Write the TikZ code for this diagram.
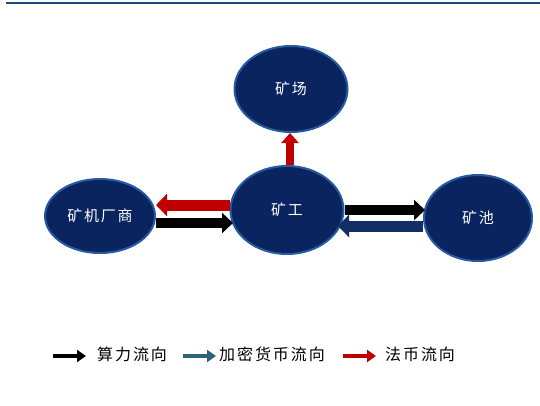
\documentclass[tikz,border=0pt]{standalone}
\usepackage{fontspec}
\newfontfamily\cjk[LetterSpace=12]{Noto Sans CJK SC}
\usetikzlibrary{arrows.meta,shapes.geometric}
\definecolor{navy}{RGB}{10,36,96}
\definecolor{rim}{RGB}{40,90,160}
\definecolor{topline}{RGB}{31,73,125}
\definecolor{redarr}{RGB}{192,0,0}
\definecolor{bluearr}{RGB}{18,45,100}
\definecolor{tealarr}{RGB}{45,100,120}
\tikzset{
  x=1pt, y=-1pt,
  ell/.style={ellipse, fill=navy, draw=rim, line width=2pt, text=white, font=\cjk\fontsize{15}{17}\selectfont},
  legarrow/.style={line width=4pt, -{Triangle[length=9pt, width=12pt]}, draw=#1},
  legtext/.style={font=\cjk\fontsize{16}{18}\selectfont, text=black, inner sep=0pt}
}
\begin{document}
\begin{tikzpicture}
\useasboundingbox (0,0) rectangle (540,405);
\fill[white] (0,0) rectangle (540,405);
\draw[topline, line width=2.2pt] (6,3) -- (540,3);
\node[ell, minimum width=113pt, minimum height=86pt] (farm) at (291,89) {矿场};
\node[ell, minimum width=113pt, minimum height=88pt] (miner) at (287,210) {矿工};
\node[ell, minimum width=110pt, minimum height=74pt] (maker) at (100,216) {矿机厂商};
\node[ell, minimum width=108pt, minimum height=86pt] (pool) at (478,218) {矿池};
% vertical red
\draw[line width=8pt, -{Triangle[length=10pt, width=17pt]}, draw=redarr] (miner.north) ++(3,0) coordinate (up0) -- (up0 |- farm.south);
% left pair
\draw[line width=11pt, -{Triangle[length=11pt, width=22pt]}, draw=redarr] (miner.west |- 0,205) -- (maker.east |- 0,205);
\draw[line width=10pt, -{Triangle[length=11pt, width=20pt]}, draw=black] (maker.east |- 0,223) -- (233,223) coordinate (bk1);
% right pair
\draw[line width=10pt, -{Triangle[length=11pt, width=20pt]}, draw=black] (miner.east |- 0,210) -- (425,210) coordinate (bk2);
\draw[line width=11pt, -{Triangle[length=11pt, width=22pt]}, draw=bluearr] (pool.west |- 0,226) -- (338,226) coordinate (bl1);
% legend
\coordinate (l1a) at (53,356); \coordinate (l1b) at (86,356);
\draw[legarrow=black] (l1a) -- (l1b);
\node[legtext, anchor=west] (t1) at (97,354) {算力流向};
\coordinate (l2a) at (183,356); \coordinate (l2b) at (216,356);
\draw[legarrow=tealarr] (l2a) -- (l2b);
\node[legtext, anchor=west] (t2) at (219,354) {加密货币流向};
\coordinate (l3a) at (343,356); \coordinate (l3b) at (376,356);
\draw[legarrow=redarr] (l3a) -- (l3b);
\node[legtext, anchor=west] (t3) at (385,354) {法币流向};
\end{tikzpicture}
\end{document}
